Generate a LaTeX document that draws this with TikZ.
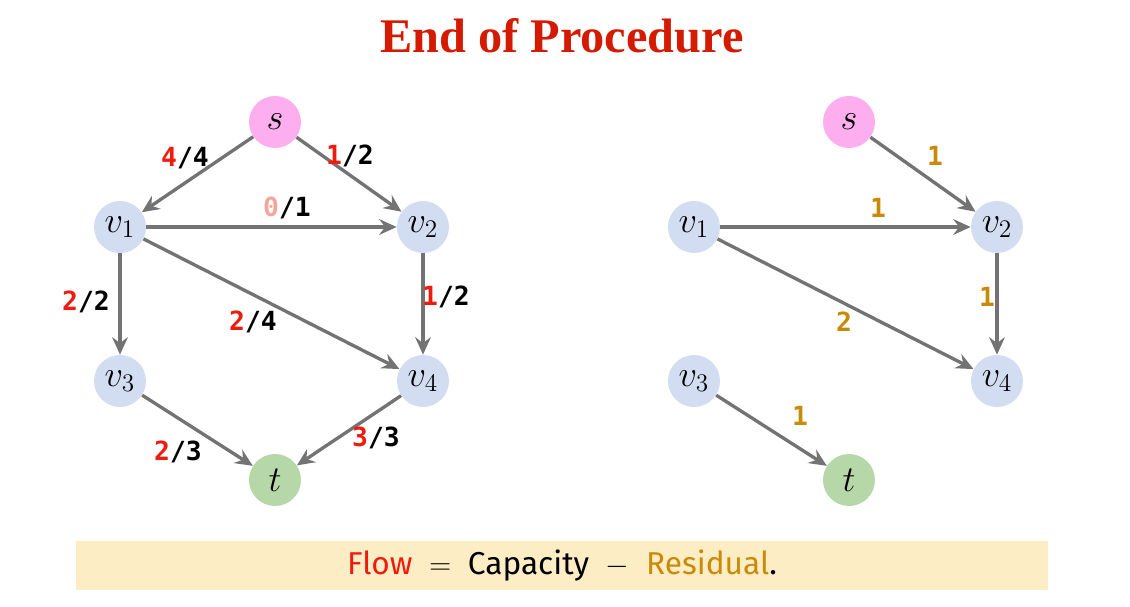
\documentclass[tikz,border=0pt]{standalone}
\usepackage{fontspec}
\setmainfont{Liberation Serif}
\setsansfont{Fira Sans}
\setmonofont{DejaVu Sans Mono}
\usetikzlibrary{arrows.meta}

\definecolor{srcpink}{HTML}{FCAEEE}
\definecolor{vblue}{HTML}{D2DDF2}
\definecolor{sinkgreen}{HTML}{B6D7A8}
\definecolor{edgegray}{HTML}{737373}
\definecolor{flowred}{HTML}{EE1C0E}
\definecolor{zeropink}{HTML}{F4A59C}
\definecolor{resgold}{HTML}{C98A08}
\definecolor{titlered}{HTML}{D41A00}
\definecolor{notebg}{HTML}{FCEDC4}

\tikzset{
  vertex/.style={circle, minimum size=1.04cm, inner sep=0pt, font=\fontsize{20}{24}\selectfont},
  source/.style={vertex, fill=srcpink},
  inner/.style={vertex, fill=vblue},
  sink/.style={vertex, fill=sinkgreen},
  flowedge/.style={draw=edgegray, line width=1.9pt, -{Stealth[length=10pt, width=9pt, inset=3.5pt]}},
  flowlabel/.style={font=\ttfamily\bfseries\fontsize{15}{18}\selectfont, inner sep=1pt},
  reslabel/.style={flowlabel, text=resgold}
}
\newcommand{\fl}[2]{\textcolor{flowred}{#1}/#2}

\begin{document}
\begin{tikzpicture}[x=0.02cm, y=-0.02cm]
\useasboundingbox (0,0) rectangle (1130,606);
\node (title) at (562,36) [font=\bfseries\fontsize{27.5}{32}\selectfont, text=titlered] {End of Procedure};

% flow network
\node (s) at (275,122) [source] {$s$};
\node (v1) at (120,227) [inner] {$v_1$};
\node (v2) at (423,227) [inner] {$v_2$};
\node (v3) at (120,381) [inner] {$v_3$};
\node (v4) at (423,381) [inner] {$v_4$};
\node (t) at (275,480) [sink] {$t$};
\draw[flowedge] (s) -- (v1);
\draw[flowedge] (s) -- (v2);
\draw[flowedge] (v1) -- (v2);
\draw[flowedge] (v1) -- (v3);
\draw[flowedge] (v1) -- (v4);
\draw[flowedge] (v2) -- (v4);
\draw[flowedge] (v3) -- (t);
\draw[flowedge] (v4) -- (t);
\node (sv1) at (185,158) [flowlabel] {\fl{4}{4}};
\node (sv2) at (350,156) [flowlabel] {\fl{1}{2}};
\node (v1v2) at (287,208) [flowlabel] {\textcolor{zeropink}{0}/1};
\node (v1v3) at (86,302) [flowlabel] {\fl{2}{2}};
\node (v1v4) at (253,322) [flowlabel] {\fl{2}{4}};
\node (v2v4) at (446,297) [flowlabel] {\fl{1}{2}};
\node (v3t) at (178,452) [flowlabel] {\fl{2}{3}};
\node (v4t) at (376,438) [flowlabel] {\fl{3}{3}};

% residual network
\node (rs) at (849,122) [source] {$s$};
\node (rv1) at (694,227) [inner] {$v_1$};
\node (rv2) at (997,227) [inner] {$v_2$};
\node (rv3) at (694,381) [inner] {$v_3$};
\node (rv4) at (997,381) [inner] {$v_4$};
\node (rt) at (849,480) [sink] {$t$};
\draw[flowedge] (rs) -- (rv2);
\draw[flowedge] (rv1) -- (rv2);
\draw[flowedge] (rv1) -- (rv4);
\draw[flowedge] (rv2) -- (rv4);
\draw[flowedge] (rv3) -- (rt);
\node (rsv2) at (935,156) [reslabel] {1};
\node (rv1v2) at (878,208) [reslabel] {1};
\node (rv1v4) at (844,322) [reslabel] {2};
\node (rv2v4) at (987,297) [reslabel] {1};
\node (rv3t) at (800,416) [reslabel] {1};

\fill[notebg] (76,541) rectangle (1048,590);
\node (note) at (562,566) [font=\sffamily\fontsize{18}{22}\selectfont] {\textcolor{flowred}{Flow}\ \ $=$\ \ Capacity\ \ $-$\ \ \textcolor{resgold}{Residual}.};
\end{tikzpicture}
\end{document}
